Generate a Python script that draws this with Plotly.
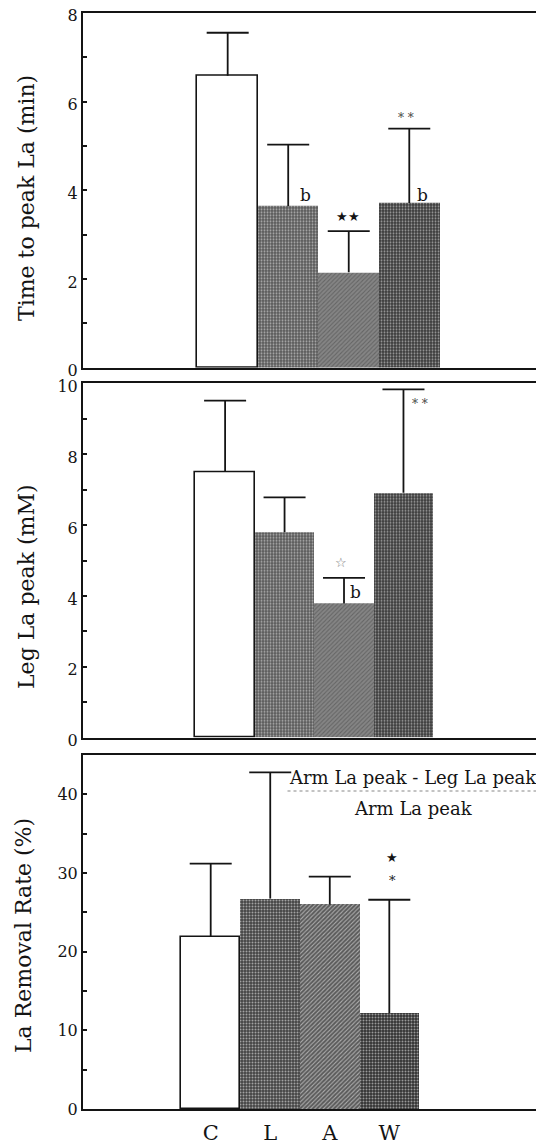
import plotly.graph_objects as go

# ---------------- data ----------------
groups = ["C", "L", "A", "W"]

time_peak_mean = [6.58, 3.64, 2.15, 3.71]
time_peak_sd = [0.97, 1.39, 0.93, 1.68]

leg_peak_mean = [7.50, 5.80, 3.79, 6.91]
leg_peak_sd = [2.01, 0.98, 0.72, 2.92]

removal_mean = [21.9, 26.75, 26.0, 12.2]
removal_sd = [9.3, 16.05, 3.55, 14.4]

y_titles = ["Time to peak La (min)", "Leg La peak (mM)", "La Removal Rate (%)"]

# ---------------- styles ----------------
PAGE_OFF = 8                # default body margin of the page
W, H = 544 - PAGE_OFF, 1144 - PAGE_OFF
SERIF = "DejaVu Serif"
INK = "#141414"

pat_shapes = ["", ".", "/", "."]
line_w = [1.6, 0, 0, 0]

bar_colors = ["white", "#5a5a5a", "#858585", "#3a3a3a"]
pat_fg = ["white", "#2a2a2a", "#262626", "#141414"]

bar_colors3 = ["white", "#444444", "#5a5a5a", "#333333"]
pat_fg3 = ["white", "#1a1a1a", "#1c1c1c", "#101010"]


def px_y(p):
    return 1 - (p - PAGE_OFF) / H


def px_x(p):
    return (p - PAGE_OFF) / W


fig = go.Figure()

panels = [
    (time_peak_mean, time_peak_sd, "x", "y", bar_colors, pat_fg),
    (leg_peak_mean, leg_peak_sd, "x2", "y2", bar_colors, pat_fg),
    (removal_mean, removal_sd, "x3", "y3", bar_colors3, pat_fg3),
]

for mean, sd, xa, ya, cols, fgs in panels:
    fig.add_trace(go.Bar(
        x=groups, y=mean, xaxis=xa, yaxis=ya, width=1.0,
        marker=dict(
            color=cols,
            line=dict(color=INK, width=line_w),
            pattern=dict(shape=pat_shapes, fgcolor=fgs,
                         size=3, solidity=0.35, fillmode="overlay"),
        ),
        showlegend=False, hoverinfo="skip",
    ))
    # upper-only error bars: stem drawn down to the mean, cap as a marker at the top
    tops = [m + s for m, s in zip(mean, sd)]
    fig.add_trace(go.Scatter(
        x=groups, y=tops, xaxis=xa, yaxis=ya, mode="markers",
        marker=dict(symbol="line-ew", size=30, color=INK,
                    line=dict(color=INK, width=1.8)),
        error_y=dict(type="data", symmetric=False, array=[0] * len(sd),
                     arrayminus=sd, color=INK, thickness=1.8, width=0),
        showlegend=False, hoverinfo="skip",
    ))

axis_common = dict(showline=True, linecolor=INK, linewidth=2, showgrid=False,
                   zeroline=False, automargin=False)
ytick_common = dict(ticks="inside", ticklen=4, tickwidth=1.5, tickcolor=INK,
                    tickfont=dict(size=16), ticklabeloverflow="allow")

fig.update_layout(
    width=W, height=H, margin=dict(l=0, r=0, t=0, b=0),
    paper_bgcolor="white", plot_bgcolor="white", bargap=0,
    font=dict(family=SERIF, color=INK),
    xaxis=dict(domain=[px_x(83), 1], range=[-2.39, 5.36 - PAGE_OFF / 59.5], anchor="y",
               showticklabels=False, ticks="", mirror=True, **axis_common),
    yaxis=dict(domain=[px_y(367.7), px_y(12.8)], range=[0, 8], anchor="x",
               dtick=2, minor=dict(dtick=1, ticks="inside", ticklen=4, tickcolor=INK),
               ticklabelshift=3, **ytick_common, **axis_common),
    xaxis2=dict(domain=[px_x(83), px_x(542)], range=[-2.39, 5.33], anchor="y2",
                showticklabels=False, ticks="", mirror=True, **axis_common),
    yaxis2=dict(domain=[px_y(737.7), px_y(383.3)], range=[0, 10], anchor="x2",
                dtick=2, minor=dict(dtick=1, ticks="inside", ticklen=4, tickcolor=INK),
                ticklabelshift=3, mirror=True, **ytick_common, **axis_common),
    xaxis3=dict(domain=[px_x(83), 1], range=[-2.145, 5.735 - PAGE_OFF / 58.5], anchor="y3",
                ticks="", mirror=True, tickfont=dict(size=21),
                ticklabelstandoff=4, **axis_common),
    yaxis3=dict(domain=[px_y(1109), px_y(755)], range=[0, 45], anchor="x3",
                dtick=10, minor=dict(dtick=5, ticks="inside", ticklen=4, tickcolor=INK),
                **ytick_common, **axis_common),
)

# y-axis titles (as rotated annotations)
title_pos = [(27, 198), (26, 587), (23, 936)]
for t, (tx, ty) in zip(y_titles, title_pos):
    fig.add_annotation(text=t, xref="paper", yref="paper", x=px_x(tx), y=px_y(ty),
                       textangle=-90, showarrow=False, xanchor="center", yanchor="middle",
                       font=dict(size=22, family=SERIF, color=INK))

# significance marks
marks = [
    ("b", "x", "y", 1.29, 3.89, 17, INK),
    ("b", "x", "y", 3.22, 3.89, 17, INK),
    ("★★", "x", "y", 1.98, 3.40, 13, INK),
    ("* *", "x", "y", 2.94, 5.64, 12, "#444444"),
    ("☆", "x2", "y2", 1.95, 4.94, 13, "#777777"),
    ("b", "x2", "y2", 2.20, 4.12, 17, INK),
    ("* *", "x2", "y2", 3.28, 9.42, 12, "#444444"),
    ("★", "x3", "y3", 3.05, 32.0, 13, INK),
    ("*", "x3", "y3", 3.05, 29.0, 13, INK),
]
for txt, xr, yr, mx, my, sz, col in marks:
    fig.add_annotation(text=txt, xref=xr, yref=yr, x=mx, y=my, showarrow=False,
                       xanchor="center", yanchor="middle",
                       font=dict(size=sz, family=SERIF, color=col))

# formula in panel 3
fig.add_annotation(text="Arm La peak - Leg La peak", xref="paper", yref="paper",
                   x=px_x(412.7), y=px_y(777.7), showarrow=False,
                   xanchor="center", yanchor="middle",
                   font=dict(size=18, family=SERIF, color=INK))
fig.add_annotation(text="Arm La peak", xref="paper", yref="paper",
                   x=px_x(413), y=px_y(808.3), showarrow=False,
                   xanchor="center", yanchor="middle",
                   font=dict(size=18, family=SERIF, color=INK))
fig.add_shape(type="line", xref="paper", yref="paper",
              x0=px_x(287.5), x1=px_x(538), y0=px_y(791), y1=px_y(791),
              line=dict(color="#888888", width=1.2, dash="dot"))

fig.write_html("out.html")
